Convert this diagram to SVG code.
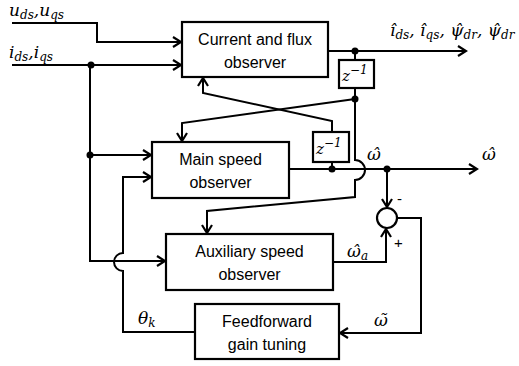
<svg xmlns="http://www.w3.org/2000/svg" width="519" height="366" viewBox="0 0 519 366">
<defs>
<marker id="ar" markerUnits="userSpaceOnUse" markerWidth="12" markerHeight="12" refX="10" refY="6" orient="auto">
<path d="M2,1 L10,6 L2,11" fill="none" stroke="#000" stroke-width="2.2"/>
</marker>
<style>
.box{fill:#fff;stroke:#000;stroke-width:2.2}
.ln{fill:none;stroke:#000;stroke-width:2}
.t{font-family:"Liberation Sans",Arial,sans-serif;font-size:16px;text-anchor:middle;fill:#000}
.m{font-family:"DejaVu Serif","Liberation Serif",serif;font-style:italic;font-size:17px;fill:#000}
.s{font-size:12px}
.dot{fill:#000}
</style>
</defs>
<rect width="519" height="366" fill="#fff"/>
<g id="connectors">
<path class="ln" d="M12,23 H97 V42 H181" marker-end="url(#ar)"/>
<path class="ln" d="M12,65 H181" marker-end="url(#ar)"/>
<path class="ln" d="M90,65 V261 H165" marker-end="url(#ar)"/>
<path class="ln" d="M90,155 H151" marker-end="url(#ar)"/>
<path class="ln" d="M195,332 H123 V271 A9,9 0 0 1 123,253 V177 H151" marker-end="url(#ar)"/>
<path class="ln" d="M328,51 H466" marker-end="url(#ar)"/>
<path class="ln" d="M355,51 V60"/>
<path class="ln" d="M355,88 V160 A10,10 0 0 1 355,180 V197 L207,211 V233" marker-end="url(#ar)"/>
<path class="ln" d="M355,99 L182,123 V141" marker-end="url(#ar)"/>
<path class="ln" d="M289,169 H477" marker-end="url(#ar)"/>
<path class="ln" d="M332,169 V162"/>
<path class="ln" d="M332,132 V121 L203,93 V78" marker-end="url(#ar)"/>
<path class="ln" d="M387,169 V207" marker-end="url(#ar)"/>
<path class="ln" d="M333,262 H386 V229" marker-end="url(#ar)"/>
<path class="ln" d="M397,218 H421 V333 H340" marker-end="url(#ar)"/>
<circle class="dot" cx="91" cy="65" r="3.5"/>
<circle class="dot" cx="90" cy="155" r="3.5"/>
<circle class="dot" cx="355" cy="51" r="3.5"/>
<circle class="dot" cx="355" cy="99" r="3.5"/>
<circle class="dot" cx="332" cy="169" r="3.5"/>
<circle class="dot" cx="387" cy="169" r="3.5"/>
</g>
<g id="sum">
<circle cx="387" cy="218" r="10" fill="#fff" stroke="#000" stroke-width="2.2"/>
<text x="397" y="204" class="t" style="text-anchor:start;font-size:15px">-</text>
<text x="394" y="248" class="t" style="text-anchor:start;font-size:15px">+</text>
</g>
<g id="current-flux-observer">
<rect class="box" x="182" y="22" width="146" height="55"/>
<text class="t" x="255" y="45">Current and flux</text>
<text class="t" x="255" y="68">observer</text>
</g>
<g id="main-speed-observer">
<rect class="box" x="152" y="142" width="137" height="56"/>
<text class="t" x="220.500" y="165">Main speed</text>
<text class="t" x="220.500" y="188">observer</text>
</g>
<g id="auxiliary-speed-observer">
<rect class="box" x="166" y="234" width="167" height="56"/>
<text class="t" x="249.500" y="257">Auxiliary speed</text>
<text class="t" x="249.500" y="280">observer</text>
</g>
<g id="feedforward-gain-tuning">
<rect class="box" x="195" y="304" width="144" height="55"/>
<text class="t" x="267" y="327">Feedforward</text>
<text class="t" x="267" y="350">gain tuning</text>
</g>
<g id="z1-upper">
<rect class="box" x="339" y="60" width="35" height="28"/>
<text class="m" x="342" y="81" style="font-size:15px">z<tspan class="s" dy="-7">−1</tspan></text>
</g>
<g id="z1-lower">
<rect class="box" x="313" y="132" width="36" height="30"/>
<text class="m" x="316" y="154" style="font-size:15px">z<tspan class="s" dy="-7">−1</tspan></text>
</g>
<g id="labels">
<text class="m" x="9" y="16">u<tspan class="s" dy="3">ds</tspan><tspan dy="-3">,</tspan>u<tspan class="s" dy="3">qs</tspan></text>
<text class="m" x="9" y="58">i<tspan class="s" dy="3">ds</tspan><tspan dy="-3">,</tspan>i<tspan class="s" dy="3">qs</tspan></text>
<text class="m" x="390" y="36">ı̂<tspan class="s" dy="3">ds</tspan><tspan dy="-3">, </tspan>ı̂<tspan class="s" dy="3">qs</tspan><tspan dy="-3">, ψ̂</tspan><tspan class="s" dy="3">dr</tspan><tspan dy="-3">, ψ̂</tspan><tspan class="s" dy="3">dr</tspan></text>
<text class="m" x="367" y="160">ω̂</text>
<text class="m" x="482" y="160">ω̂</text>
<text class="m" x="347" y="257">ω̂<tspan class="s" dy="3">a</tspan></text>
<text class="m" x="374" y="326">ω̃</text>
<text class="m" x="138" y="324">θ<tspan class="s" dy="3">k</tspan></text>
</g>
</svg>
